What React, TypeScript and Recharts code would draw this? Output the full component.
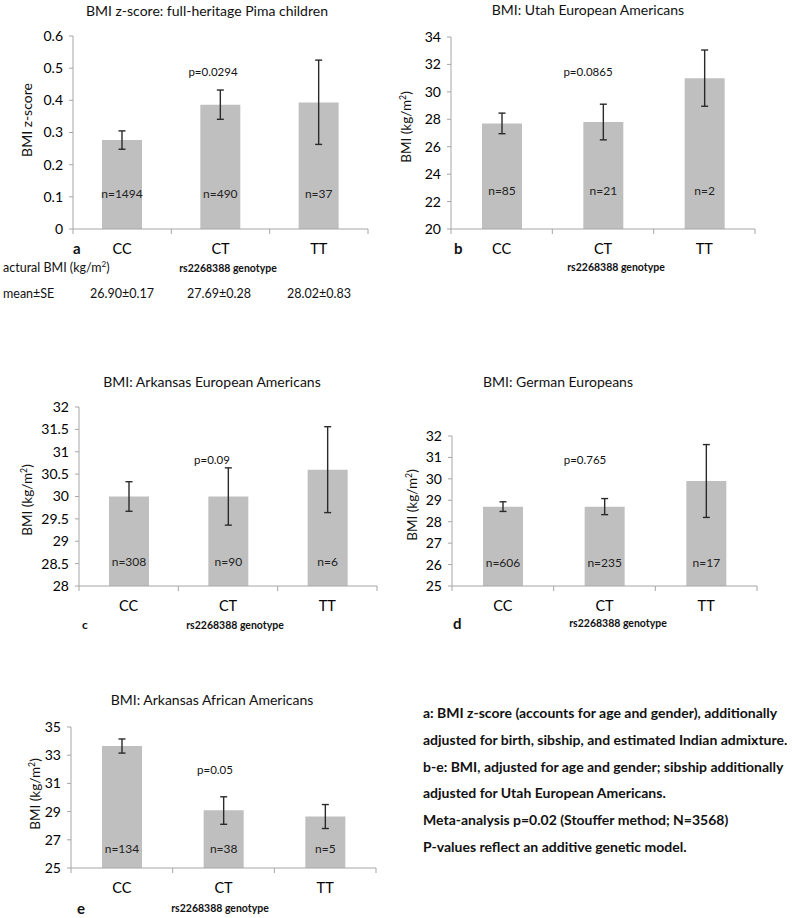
import React from "react";
import { BarChart, Bar, XAxis, YAxis, ErrorBar, LabelList } from "recharts";

const FONT = "Lato, 'Open Sans', sans-serif";
const BAR_FILL = "#bfbfbf";
const AXIS = "#a6a6a6";

const genotypes = ["CC", "CT", "TT"];

// a: Pima children, BMI z-score
const pimaMean = [0.277, 0.386, 0.393];
const pimaLow = [0.248, 0.341, 0.263];
const pimaHigh = [0.305, 0.432, 0.525];
const pimaN = ["n=1494", "n=490", "n=37"];
const pimaTicks = [0, 0.1, 0.2, 0.3, 0.4, 0.5, 0.6];
const pimaActual = ["26.90±0.17", "27.69±0.28", "28.02±0.83"];

// b: Utah European Americans
const utahMean = [27.7, 27.8, 31.0];
const utahLow = [26.95, 26.5, 28.95];
const utahHigh = [28.45, 29.1, 33.05];
const utahN = ["n=85", "n=21", "n=2"];
const utahTicks = [20, 22, 24, 26, 28, 30, 32, 34];

// c: Arkansas European Americans
const arkEuMean = [30.0, 30.0, 30.6];
const arkEuLow = [29.67, 29.36, 29.64];
const arkEuHigh = [30.33, 30.64, 31.56];
const arkEuN = ["n=308", "n=90", "n=6"];
const arkEuTicks = [28, 28.5, 29, 29.5, 30, 30.5, 31, 31.5, 32];

// d: German Europeans
const germanMean = [28.7, 28.7, 29.9];
const germanLow = [28.48, 28.33, 28.2];
const germanHigh = [28.93, 29.08, 31.6];
const germanN = ["n=606", "n=235", "n=17"];
const germanTicks = [25, 26, 27, 28, 29, 30, 31, 32];

// e: Arkansas African Americans
const arkAfMean = [33.65, 29.1, 28.65];
const arkAfLow = [33.15, 28.1, 27.8];
const arkAfHigh = [34.15, 30.05, 29.5];
const arkAfN = ["n=134", "n=38", "n=5"];
const arkAfTicks = [25, 27, 29, 31, 33, 35];

const notes = [
  "a: BMI z-score (accounts for age and gender), additionally",
  "adjusted for birth, sibship, and estimated Indian admixture.",
  "b-e: BMI, adjusted for age and gender; sibship additionally",
  "adjusted for Utah European Americans.",
  "Meta-analysis p=0.02 (Stouffer method; N=3568)",
  "P-values reflect an additive genetic model.",
];

type PanelProps = {
  left: number;
  top: number;
  width: number;
  height: number;
  margin: { top: number; right: number; bottom: number; left: number };
  yWidth: number;
  ticks: number[];
  mean: number[];
  low: number[];
  high: number[];
  n: string[];
  nOffset: number;
};

function Panel(p: PanelProps) {
  const data = genotypes.map((g, i) => ({
    g,
    mean: p.mean[i],
    err: [p.mean[i] - p.low[i], p.high[i] - p.mean[i]],
    n: p.n[i],
  }));
  const plotW = p.width - p.margin.left - p.yWidth - p.margin.right;
  const band = plotW / genotypes.length;
  const axisY = p.height - p.margin.bottom - 30;

  const CatTick = (t: any) => (
    <g>
      <line x1={t.x - band / 2} x2={t.x - band / 2} y1={axisY} y2={axisY + 5} stroke={AXIS} />
      {t.index === genotypes.length - 1 && (
        <line x1={t.x + band / 2} x2={t.x + band / 2} y1={axisY} y2={axisY + 5} stroke={AXIS} />
      )}
      <text
        x={t.x}
        y={axisY + 19}
        textAnchor="middle"
        dominantBaseline="central"
        fontSize={14.5}
        fill="#000"
        fontFamily={FONT}
      >
        {t.payload.value}
      </text>
    </g>
  );

  return (
    <div style={{ position: "absolute", left: p.left, top: p.top }}>
      <BarChart width={p.width} height={p.height} data={data} margin={p.margin}>
        <XAxis
          dataKey="g"
          height={30}
          stroke={AXIS}
          tickLine={false}
          tick={CatTick}
          interval={0}
        />
        <YAxis
          width={p.yWidth}
          domain={[p.ticks[0], p.ticks[p.ticks.length - 1]]}
          ticks={p.ticks}
          interval={0}
          allowDataOverflow
          stroke={AXIS}
          tickSize={4}
          tickMargin={6}
          tick={{ fill: "#000", fontSize: 14, fontFamily: FONT }}
        />
        <Bar dataKey="mean" fill={BAR_FILL} barSize={40} isAnimationActive={false}>
          <ErrorBar dataKey="err" width={3.5} stroke="#2a2a2a" strokeWidth={1.4} isAnimationActive={false} />
          <LabelList
            dataKey="n"
            content={(l: any) => (
              <text
                x={l.x + l.width / 2}
                y={axisY - p.nOffset}
                textAnchor="middle"
                dominantBaseline="central"
                fontSize={12}
                fontFamily={FONT}
                fill="#222"
              >
                {l.value}
              </text>
            )}
          />
        </Bar>
      </BarChart>
    </div>
  );
}

type TProps = {
  x: number;
  y: number;
  size: number;
  bold?: boolean;
  align?: "center" | "left";
  rotate?: boolean;
  children: React.ReactNode;
};

function T({ x, y, size, bold, align = "center", rotate, children }: TProps) {
  const tr = rotate
    ? "translate(-50%,-50%) rotate(-90deg)"
    : align === "center"
    ? "translate(-50%,-50%)"
    : "translateY(-50%)";
  return (
    <div
      style={{
        position: "absolute",
        left: x,
        top: y,
        transform: tr,
        fontSize: size,
        fontWeight: bold ? 700 : 400,
        whiteSpace: "nowrap",
        lineHeight: 1,
        color: "#111",
      }}
    >
      {children}
    </div>
  );
}

const sup = (s: string) => <sup style={{ fontSize: "0.65em", lineHeight: 0 }}>{s}</sup>;
const bmiUnit = <>BMI (kg/m{sup("2")})</>;

export default function App() {
  return (
    <div
      style={{
        position: "absolute",
        left: 0,
        top: 0,
        width: 794,
        height: 918,
        background: "#fff",
        fontFamily: FONT,
        overflow: "hidden",
      }}
    >
      {/* a */}
      <Panel
        left={0}
        top={0}
        width={400}
        height={260}
        margin={{ top: 36, right: 32, bottom: 1, left: 0 }}
        yWidth={73}
        ticks={pimaTicks}
        mean={pimaMean}
        low={pimaLow}
        high={pimaHigh}
        n={pimaN}
        nOffset={36}
      />
      <T x={207} y={11} size={14}>BMI z-score: full-heritage Pima children</T>
      <T x={27} y={120} size={14} rotate>BMI z-score</T>
      <T x={213} y={72} size={11.5}>p=0.0294</T>
      <T x={73} y={248} size={15} bold align="left">a</T>
      <T x={3} y={268} size={12.5} align="left">actural BMI (kg/m{sup("2")})</T>
      <T x={228} y={268} size={10.5} bold>rs2268388 genotype</T>
      <T x={3} y={294} size={12.5} align="left">mean±SE</T>
      <T x={122} y={294} size={12.5}>{pimaActual[0]}</T>
      <T x={219} y={294} size={12.5}>{pimaActual[1]}</T>
      <T x={319} y={294} size={12.5}>{pimaActual[2]}</T>

      {/* b */}
      <Panel
        left={400}
        top={0}
        width={394}
        height={260}
        margin={{ top: 37, right: 39, bottom: 1, left: 0 }}
        yWidth={51}
        ticks={utahTicks}
        mean={utahMean}
        low={utahLow}
        high={utahHigh}
        n={utahN}
        nOffset={39}
      />
      <T x={588} y={10} size={14}>BMI: Utah European Americans</T>
      <T x={407} y={127} size={13.5} rotate>{bmiUnit}</T>
      <T x={588} y={72} size={11.5}>p=0.0865</T>
      <T x={454} y={248} size={15} bold align="left">b</T>
      <T x={616} y={267} size={10.5} bold>rs2268388 genotype</T>

      {/* c */}
      <Panel
        left={0}
        top={370}
        width={400}
        height={250}
        margin={{ top: 37, right: 23, bottom: 4, left: 0 }}
        yWidth={79}
        ticks={arkEuTicks}
        mean={arkEuMean}
        low={arkEuLow}
        high={arkEuHigh}
        n={arkEuN}
        nOffset={25}
      />
      <T x={212} y={382} size={14}>BMI: Arkansas European Americans</T>
      <T x={28} y={500} size={13.5} rotate>{bmiUnit}</T>
      <T x={212} y={460} size={11.5}>p=0.09</T>
      <T x={82} y={625} size={12} bold align="left">c</T>
      <T x={235} y={625} size={10.5} bold>rs2268388 genotype</T>

      {/* d */}
      <Panel
        left={400}
        top={370}
        width={394}
        height={250}
        margin={{ top: 66, right: 37, bottom: 4, left: 0 }}
        yWidth={52}
        ticks={germanTicks}
        mean={germanMean}
        low={germanLow}
        high={germanHigh}
        n={germanN}
        nOffset={24}
      />
      <T x={558} y={382} size={14}>BMI: German Europeans</T>
      <T x={413} y={505} size={13.5} rotate>{bmiUnit}</T>
      <T x={585} y={460} size={11.5}>p=0.765</T>
      <T x={453} y={623} size={15} bold align="left">d</T>
      <T x={618} y={623} size={10.5} bold>rs2268388 genotype</T>

      {/* e */}
      <Panel
        left={0}
        top={650}
        width={400}
        height={250}
        margin={{ top: 77, right: 24, bottom: 2, left: 0 }}
        yWidth={71}
        ticks={arkAfTicks}
        mean={arkAfMean}
        low={arkAfLow}
        high={arkAfHigh}
        n={arkAfN}
        nOffset={20}
      />
      <T x={212} y={700} size={14}>BMI: Arkansas African Americans</T>
      <T x={36} y={794} size={13.5} rotate>{bmiUnit}</T>
      <T x={215} y={770} size={11.5}>p=0.05</T>
      <T x={77} y={908} size={15} bold align="left">e</T>
      <T x={220} y={908} size={10.5} bold>rs2268388 genotype</T>

      {notes.map((line, i) => (
        <T key={i} x={423} y={713 + i * 26.8} size={14} bold align="left">
          {line}
        </T>
      ))}
    </div>
  );
}
